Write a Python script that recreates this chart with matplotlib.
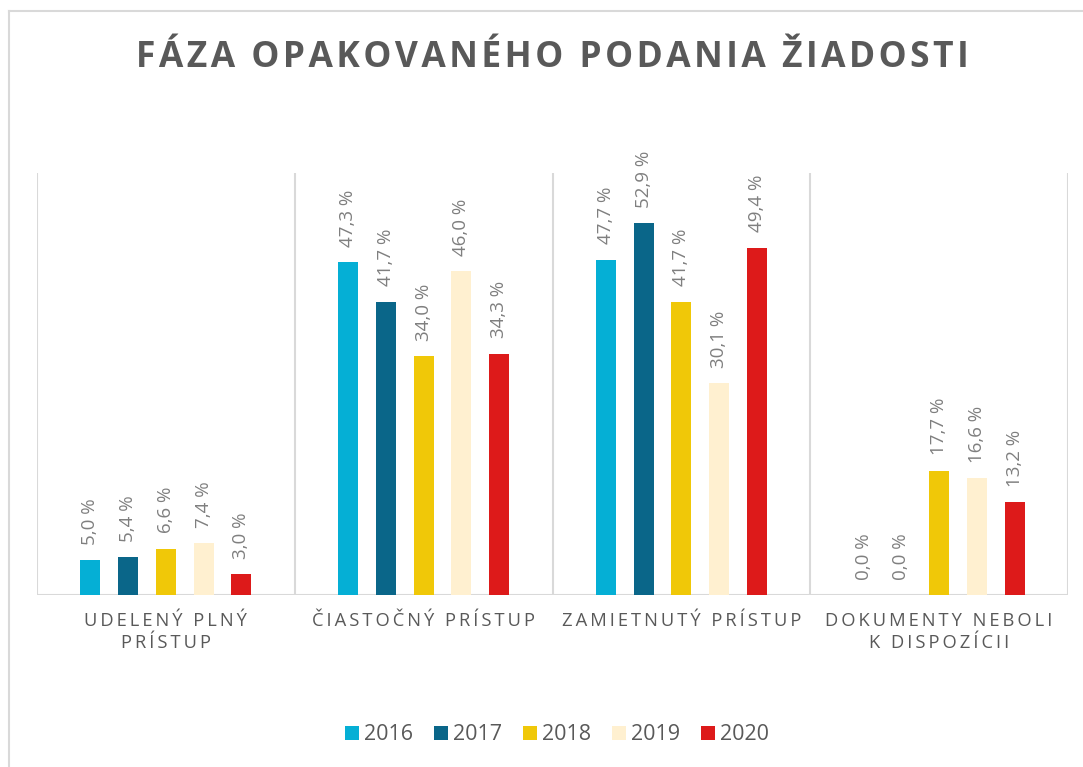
import numpy as np
import matplotlib.pyplot as plt
from matplotlib.patches import Patch
from matplotlib.lines import Line2D

plt.rcParams['font.family'] = ['Open Sans', 'DejaVu Sans']

categories = ["UDELENÝ PLNÝ\nPRÍSTUP", "ČIASTOČNÝ PRÍSTUP",
              "ZAMIETNUTÝ PRÍSTUP", "DOKUMENTY NEBOLI\nK DISPOZÍCII"]
years = ["2016", "2017", "2018", "2019", "2020"]
values = {
    "2016": [5.0, 47.3, 47.7, 0.0],
    "2017": [5.4, 41.7, 52.9, 0.0],
    "2018": [6.6, 34.0, 41.7, 17.7],
    "2019": [7.4, 46.0, 30.1, 16.6],
    "2020": [3.0, 34.3, 49.4, 13.2],
}
colors = ["#05AFD5", "#0A6689", "#F0C808", "#FFF0D0", "#DD1A1A"]

title = "FÁZA OPAKOVANÉHO PODANIA ŽIADOSTI"
gray = "#595959"


def spaced(s, gap="\u200a"):
    # fake letter spacing with thin/hair spaces
    return "\n".join(gap.join(line) for line in s.split("\n"))


fig = plt.figure(figsize=(10.83, 7.67), dpi=100)
ax = fig.add_axes([37/1083, 1 - 595/767, (1068-37)/1083, (595-173)/767])

x = np.arange(len(categories))
step = 0.1463
width = 0.0776
for i, (yr, c) in enumerate(zip(years, colors)):
    pos = x + (i - 2) * step
    bars = ax.bar(pos, values[yr], width, color=c, label=yr, zorder=3)
    for xp, v in zip(pos, values[yr]):
        ax.annotate(f"{v:.1f} %".replace(".", ","), (xp, v),
                    xytext=(0, 11), textcoords="offset points",
                    rotation=90, ha="center", va="bottom",
                    fontsize=13.5, color="#7f7f7f")

ax.set_xlim(-0.5, len(categories) - 0.5)
ax.set_ylim(0, 60)
ax.vlines(np.arange(len(categories) + 1) - 0.5, 0, 60, color="#d9d9d9", lw=1.5, zorder=1)
ax.axhline(0, color="#d9d9d9", lw=1.5, zorder=2)
for s in ax.spines.values():
    s.set_visible(False)
ax.set_yticks([])
ax.set_xticks(x)
ax.set_xticklabels([spaced(c, "\u2009") for c in categories], fontsize=13.2,
                   color=gray, linespacing=1.3)
ax.tick_params(axis="x", length=0, pad=12)

fig.text(552/1083, 1 - 58/767, spaced(title), ha="center", va="center",
         fontsize=25.5, fontweight="bold", color=gray)

handles = [Patch(facecolor=c, label=y) for y, c in zip(years, colors)]
fig.legend(handles=handles, loc="center", bbox_to_anchor=(557/1083, 1 - 735/767),
           ncol=5, frameon=False, fontsize=15.5, labelcolor=gray,
           handlelength=0.65, handleheight=0.65, handletextpad=0.25,
           columnspacing=0.95)

# chart border (left and top edges visible)
fig.add_artist(Line2D([9/1083, 9/1083], [0, 1 - 11/767], color="#d9d9d9", lw=1.5))
fig.add_artist(Line2D([9/1083, 1], [1 - 11/767, 1 - 11/767], color="#d9d9d9", lw=1.5))

fig.savefig("out.png", dpi=100)
